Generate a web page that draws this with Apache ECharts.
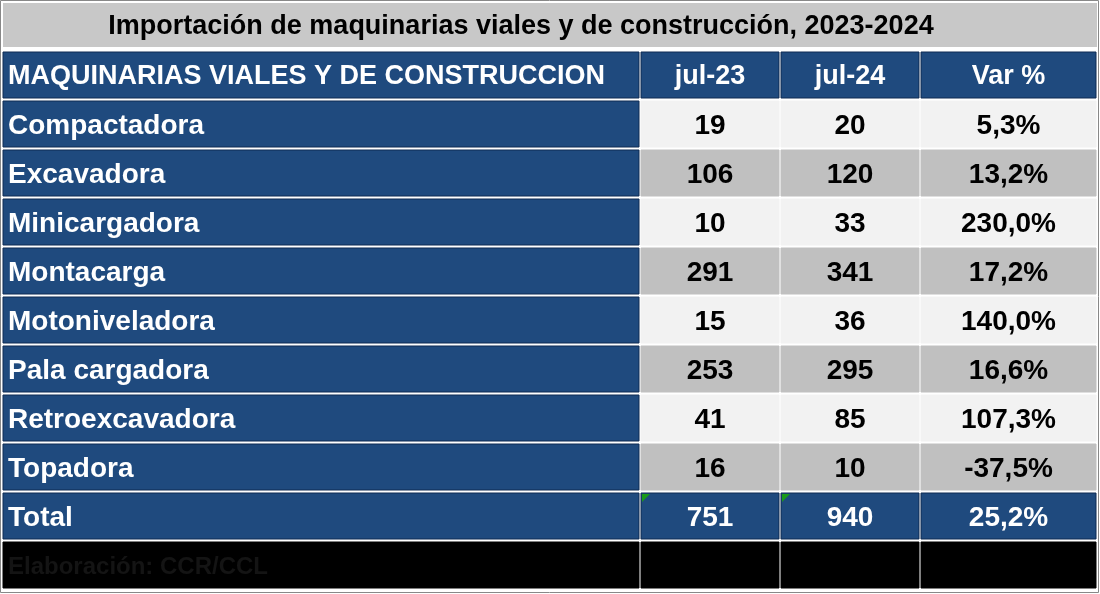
<!DOCTYPE html>
<html><head><meta charset="utf-8">
<script src="https://cdn.jsdelivr.net/npm/echarts@6/dist/echarts.min.js"></script>
<style>html,body{margin:0;padding:0;background:#fff}#c{width:1100px;height:594px}</style>
</head><body><div id="c"></div>
<script>
const title = "Importación de maquinarias viales y de construcción, 2023-2024";
const headers = ["MAQUINARIAS VIALES Y DE CONSTRUCCION", "jul-23", "jul-24", "Var %"];
const categories = ["Compactadora","Excavadora","Minicargadora","Montacarga","Motoniveladora","Pala cargadora","Retroexcavadora","Topadora"];
const jul23 = [19,106,10,291,15,253,41,16];
const jul24 = [20,120,33,341,36,295,85,10];
const varPct = ["5,3%","13,2%","230,0%","17,2%","140,0%","16,6%","107,3%","-37,5%"];
const total = ["Total", "751", "940", "25,2%"];
const footnote = "Elaboración: CCR/CCL";

const colEdges = [[3,639],[641,779],[781,919],[921,1096]];
const rowTop0 = 52, rowH = 49, rowGap = 3;
const FONT = '"Liberation Sans Narrow","Arial Narrow","Liberation Sans",Arial,sans-serif';
const BLUE = '#1f4a7e';

const cells = [];
headers.forEach((h,c)=>cells.push([c,0,h,'head']));
categories.forEach((cat,i)=>{
  const alt = i%2===0 ? 'light':'grey';
  cells.push([0,i+1,cat,'label']);
  cells.push([1,i+1,String(jul23[i]),alt]);
  cells.push([2,i+1,String(jul24[i]),alt]);
  cells.push([3,i+1,varPct[i],alt]);
});
total.forEach((t,c)=>cells.push([c,9,t,'total']));
for(let c=0;c<4;c++) cells.push([c,10,c===0?footnote:'','foot']);

const chart = echarts.init(document.getElementById('c'));
chart.setOption({
  animation:false,
  grid:{left:0,right:0,top:0,bottom:0},
  xAxis:{type:'value',min:0,max:1100,show:false},
  yAxis:{type:'value',min:0,max:594,inverse:true,show:false},
  series:[{
    type:'custom',
    data:cells,
    renderItem:(params,api)=>{
      const c=api.value(0), r=api.value(1);
      const d=cells[params.dataIndex];
      const [x0,x1]=colEdges[c];
      const y0=rowTop0+r*rowH, y1=y0+rowH-rowGap;
      const p0=api.coord([x0,y0]), p1=api.coord([x1,y1]);
      const kind=d[3];
      let fill=BLUE, color='#fff', stroke='#0e2a52';
      if(kind==='light'){fill='#f2f2f2';color='#000';stroke=fill;}
      if(kind==='grey'){fill='#c0c0c0';color='#000';stroke=fill;}
      if(kind==='foot'){fill='#000';color='#141414';stroke=fill;}
      const left = c===0;
      const children=[{type:'rect',shape:{x:p0[0],y:p0[1],width:p1[0]-p0[0],height:p1[1]-p0[1]},
        style:{fill:fill,stroke:stroke,lineWidth:1}}];
      if(kind==='total' && (c===1||c===2)){
        children.push({type:'polygon',shape:{points:[[p0[0]+1,p0[1]+1],[p0[0]+9,p0[1]+1],[p0[0]+1,p0[1]+9]]},style:{fill:'#1a9a1a'}});
      }
      children.push({type:'text',style:{text:d[2],x:left?p0[0]+5:(p0[0]+p1[0])/2,y:(p0[1]+p1[1])/2+2,
        align:left?'left':'center',verticalAlign:'middle',fill:color,
        font:(kind==='head'?'bold 27px ':(kind==='foot'?'bold 24px ':'bold 28px '))+FONT}});
      return {type:'group',children};
    }
  }],
  graphic:[
    {type:'rect',shape:{x:0.5,y:0.5,width:1098,height:592},style:{fill:'none',stroke:'#888',lineWidth:1},z:100},
    {type:'rect',shape:{x:3,y:3,width:1094,height:44},style:{fill:'#c8c8c8'}},
    {type:'text',style:{text:title,x:521,y:27,align:'center',verticalAlign:'middle',fill:'#000',font:'bold 27px '+FONT}}
  ]
});
</script></body></html>
